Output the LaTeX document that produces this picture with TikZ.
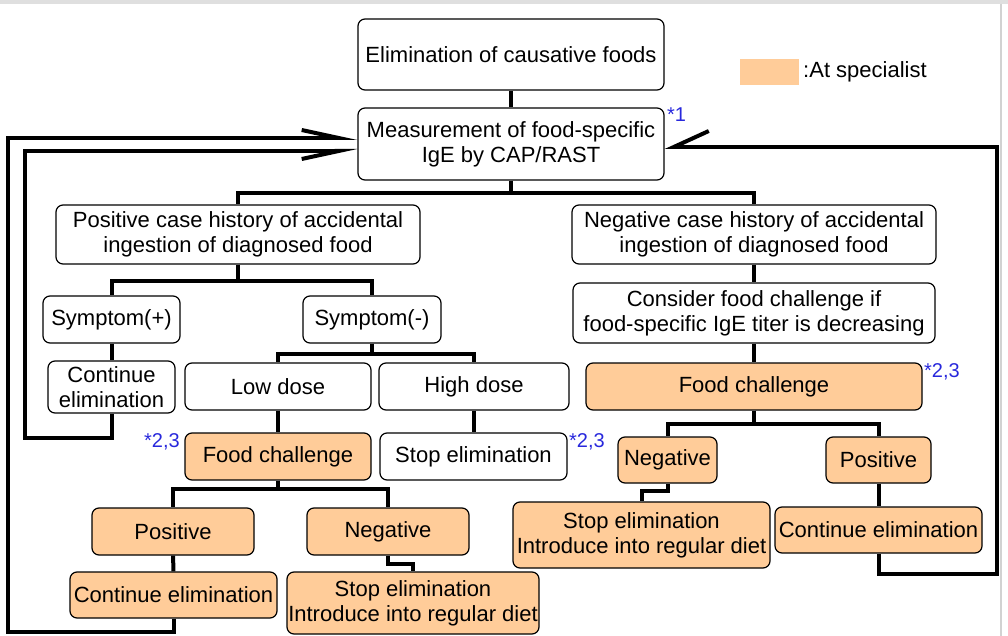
\documentclass[tikz,border=0pt]{standalone}
\usepackage{fontspec}
\setmainfont{Liberation Sans}
\usetikzlibrary{arrows.meta}
\definecolor{specialist}{HTML}{FFCC99}
\definecolor{noteblue}{RGB}{40,40,220}
\begin{document}
\begin{tikzpicture}[x=1pt, y=-1pt,
    box/.style={draw, rounded corners=7pt, line width=1.2pt, align=center, inner sep=1pt,
        font=\fontsize{22}{25}\selectfont},
    spec/.style={box, fill=specialist},
    link/.style={line width=4pt},
    note/.style={noteblue, inner sep=0pt, font=\fontsize{20}{22}\selectfont}]
    \useasboundingbox (0,0) rectangle (1008,636);
    \fill[gray!25] (0,0) rectangle (1008,4);
    \draw[gray!35, line width=1.5pt] (1001,4) -- (1001,636);

    % Top of the chart
    \node[box, minimum width=306, minimum height=71] (elim) at (511,54.5) {Elimination of causative foods};
    \node[box, minimum width=306, minimum height=72] (meas) at (511,144) {Measurement of food-specific\\IgE by CAP/RAST};
    \node[note, anchor=west] at (667,115) {*1};

    % Legend
    \fill[specialist] (740,59) rectangle (799,85);
    \node[anchor=west, inner sep=0pt, font=\fontsize{22}{24}\selectfont] (legend) at (803,72) {:At specialist};

    % Case history
    \node[box, minimum width=364, minimum height=59] (pos) at (238,234.5) {Positive case history of accidental\\ingestion of diagnosed food};
    \node[box, minimum width=364, minimum height=59] (neg) at (754,234.5) {Negative case history of accidental\\ingestion of diagnosed food};

    % Positive branch
    \node[box, minimum width=137, minimum height=47] (sympp) at (111.5,319.5) {Symptom(+)};
    \node[box, minimum width=138, minimum height=47] (sympm) at (372,319.5) {Symptom(-)};
    \node[box, minimum width=127, minimum height=52] (contA) at (111.5,387) {Continue\\elimination};
    \node[box, minimum width=186, minimum height=47] (low) at (278,386.5) {Low dose};
    \node[box, minimum width=190, minimum height=47] (high) at (474,386.5) {High dose};
    \node[spec, minimum width=186, minimum height=47] (chalA) at (278,456.5) {Food challenge};
    \node[note, anchor=east] at (180,442) {*2,3};
    \node[box, minimum width=187, minimum height=47] (stopA) at (473.5,456.5) {Stop elimination};
    \node[note, anchor=west] at (569,442) {*2,3};
    \node[spec, minimum width=162, minimum height=47] (posA) at (173,531.5) {Positive};
    \node[spec, minimum width=162, minimum height=47] (negA) at (388,531.5) {Negative};
    \node[spec, minimum width=207, minimum height=46] (contB) at (173.5,595) {Continue elimination};
    \node[spec, minimum width=252, minimum height=62] (stopB) at (413,603) {Stop elimination\\Introduce into regular diet};

    % Negative branch
    \node[box, minimum width=362, minimum height=60] (cons) at (754,313) {Consider food challenge if\\food-specific IgE titer is decreasing};
    \node[spec, minimum width=336, minimum height=47] (chalB) at (754,386.5) {Food challenge};
    \node[note, anchor=west] at (924,372) {*2,3};
    \node[spec, minimum width=99, minimum height=46] (negB) at (667.5,460) {Negative};
    \node[spec, minimum width=105, minimum height=46] (posB) at (878.5,460) {Positive};
    \node[spec, minimum width=257, minimum height=66] (stopC) at (641.5,535) {Stop elimination\\Introduce into regular diet};
    \node[spec, minimum width=207, minimum height=46] (contC) at (878.5,530) {Continue elimination};

    % Tree connectors
    \draw[link] (elim) -- (meas);
    \draw[link] (meas.south) -- ++(0,12) -| (pos.north);
    \draw[link] (meas.south) -- ++(0,12) -| (neg.north);
    \draw[link] (pos.south) -- ++(0,16) -| (sympp.north);
    \draw[link] (pos.south) -- ++(0,16) -| (sympm.north);
    \draw[link] (sympp) -- (contA);
    \draw[link] (sympm.south) -- ++(0,10) -| (low.north);
    \draw[link] (sympm.south) -- ++(0,10) -| (high.north);
    \draw[link] (low) -- (chalA);
    \draw[link] (high.south) -- (high.south |- stopA.north);
    \draw[link] (chalA.south) -- ++(0,8) -| (posA.north);
    \draw[link] (chalA.south) -- ++(0,8) -| (negA.north);
    \draw[link] (posA) -- (contB);
    \draw[link] (negA.south) -- ++(0,8) -| (stopB.north);
    \draw[link] (neg) -- (cons);
    \draw[link] (cons) -- (chalB);
    \draw[link] (chalB.south) -- ++(0,13) -| (negB.north);
    \draw[link] (chalB.south) -- ++(0,13) -| (posB.north);
    \draw[link] (negB.south) -- ++(0,7) -| (stopC.north);
    \draw[link] (posB) -- (contC);

    % Loops back to the measurement
    \draw[link, -{Straight Barb[harpoon, swap, length=37pt, width=16pt]}]
        (contA.south) -- ++(0,24) -| (25,151) -- ([yshift=-7pt]meas.west);
    \draw[link, -{Straight Barb[harpoon, length=37pt, width=16pt]}]
        (contB.south) -- ++(0,13) -| (8,138) -- ([yshift=6pt]meas.west);
    \draw[link, -{Straight Barb[harpoon, swap, length=35pt, width=32pt]}]
        (contC.south) -- ++(0,20) -| (997,147) -- ([yshift=-3pt]meas.east);
\end{tikzpicture}
\end{document}
